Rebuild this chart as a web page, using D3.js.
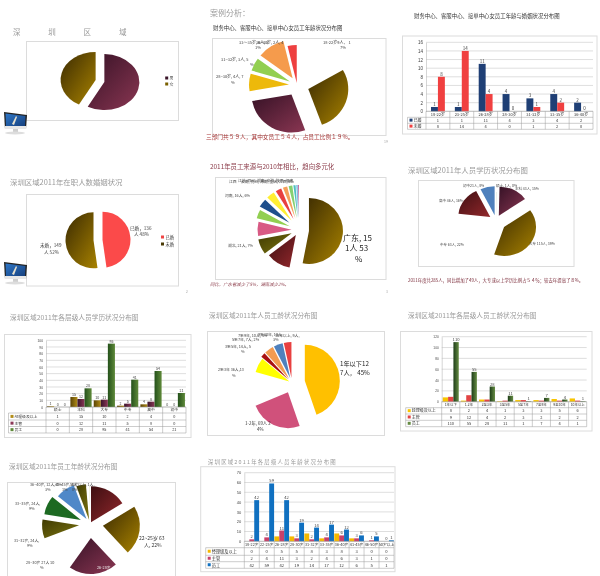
<!DOCTYPE html>
<html><head><meta charset="utf-8">
<script src="https://cdnjs.cloudflare.com/ajax/libs/d3/7.8.5/d3.min.js"></script>
<style>
html,body{margin:0;padding:0;background:#fff}
svg{display:block;filter:blur(0.45px);font-family:"Noto Sans CJK SC","Noto Sans",sans-serif}
</style></head><body>
<svg id="c" width="600" height="576"></svg>
<script>
// ---------- data ----------
const genderCats = ["男","女"];
const genderVals = [165,120];
const ageF_Vals = [9,15,15,4,3,6,2];
const marriageCats = ["18-22岁","23-25岁","26-28岁","28-30岁","31-32岁","33-35岁","36-40岁"];
const marriedVals = [1,1,11,4,3,4,2];
const unmarriedVals = [8,14,4,0,1,2,0];
const marriageNames = ["已婚","未婚"];
const maritalVals = [136,149];
const originVals = [151,33,21,20,12,12,11,8,6,5,3,2,1];
const eduVals = [1,43,115,63,46,21];
const eduCats = ["硕士","本科","大专","中专","高中","初中"];
const eduMgr = [1,15,10,2,4,0];
const eduSup = [0,12,11,5,8,0];
const eduStaff = [0,28,95,41,54,21];
const levelNames = ["经理级及以上","主管","员工"];
const tenureVals = [127,69,30,19,6,12,12,10];
const tenureCats = ["1年以下","1-2年","2至3年","3至5年","5至7年","7至9年","9至10年","10年以上"];
const tenureMgr = [8,2,4,1,3,3,5,6];
const tenureSup = [9,12,4,2,3,2,2,2];
const tenureStaff = [110,55,28,11,1,7,4,1];
const ageVals = [46,63,61,27,24,24,24,12,3,1];
const ageCats = ["18-22岁","22-25岁","26-28岁","28-30岁","31-32岁","33-35岁","36-40岁","41-45岁","46-50岁","50岁以上"];
const ageMgr = [0,0,5,5,8,3,8,3,0,0];
const ageSup = [2,4,11,3,2,4,6,3,1,0];
const ageStaff = [42,59,42,19,14,17,12,6,5,1];

// ---------- palette ----------
const BROWN=["#3a2a02","#a88200"], MAROON=["#361226","#8a3652"], WHITE=["#fff","#fff"];
const DRED=["#3e0f12","#93282c"], OLIVE=["#3f3a02","#7c7410"];
const flat=c=>[c,c];
const svg=d3.select("#c");
const defs=svg.append("defs");
let gid=0;
function grad(pair,horizontal){
  if(pair[0]===pair[1]) return pair[0];
  const id="g"+(gid++);
  const g=defs.append("linearGradient").attr("id",id).attr("x1",0).attr("y1",0)
    .attr("x2",1).attr("y2",horizontal?0:1);
  g.append("stop").attr("offset",0).attr("stop-color",pair[0]);
  g.append("stop").attr("offset",1).attr("stop-color",pair[1]);
  return `url(#${id})`;
}
function text(x,y,s,size,fill,anchor,extra){
  const t=svg.append("text").attr("x",x).attr("y",y).attr("font-size",size)
    .attr("fill",fill||"#333").attr("text-anchor",anchor||"start").text(s);
  if(extra) Object.entries(extra).forEach(([k,v])=>t.attr(k,v));
  return t;
}
function frame(x,y,w,h){
  svg.append("rect").attr("x",x).attr("y",y).attr("width",w).attr("height",h)
    .attr("fill","#fff").attr("stroke","#dcdcdc").attr("stroke-width",1);
}
function pieChart(o){
  const arcs=d3.pie().sort(null).value(d=>d)(o.values);
  const arc=d3.arc().innerRadius(0).outerRadius(100);
  const g=svg.append("g");
  g.selectAll("path").data(arcs).join("path")
    .attr("d",arc)
    .attr("transform",(d,i)=>{
      const m=(d.startAngle+d.endAngle)/2, e=o.explode[i]||0;
      return `translate(${o.cx+e*Math.sin(m)},${o.cy-e*Math.cos(m)}) scale(${o.rx/100},${o.ry/100})`;
    })
    .attr("fill",(d,i)=>grad(o.colors[i]));
}
function barChart(o){
  const x=d3.scaleBand().domain(o.cats).range([o.x0,o.x1]).padding(0);
  const inner=d3.scaleBand().domain(d3.range(o.series.length)).range([0,x.bandwidth()]).paddingOuter(o.pad);
  const y=d3.scaleLinear().domain([0,o.max]).range([o.rows[0],o.yTop]);
  const ticks=d3.range(0,o.max+1,o.step);
  svg.append("g").selectAll("line").data(ticks).join("line")
    .attr("x1",o.x0).attr("x2",o.x1).attr("y1",d=>y(d)).attr("y2",d=>y(d))
    .attr("stroke","#c8c8c8").attr("stroke-width",.6);
  const ax=svg.append("g").attr("transform",`translate(${o.x0},0)`)
    .call(d3.axisLeft(y).tickValues(ticks).tickSize(0).tickPadding(3));
  ax.select(".domain").attr("stroke","#bbb").attr("stroke-width",.6);
  ax.selectAll("text").attr("font-size",o.tickSize).attr("fill","#444").attr("font-family","inherit");
  o.series.forEach((vals,s)=>{
    svg.append("g").selectAll("rect").data(vals).join("rect")
      .attr("x",(d,i)=>x(o.cats[i])+inner(s))
      .attr("width",inner.bandwidth())
      .attr("y",d=>y(d)).attr("height",d=>y(0)-y(d))
      .attr("fill",grad(o.colors[s],true));
    if(o.labelled[s]){
      svg.append("g").selectAll("text").data(vals).join("text")
        .attr("x",(d,i)=>x(o.cats[i])+inner(s)+inner.bandwidth()/2)
        .attr("y",d=>y(d)-1).attr("text-anchor","middle")
        .attr("font-size",o.valSize).attr("fill","#444").text(d=>d);
    }
  });
  // data table
  const r=o.rows, g=svg.append("g").attr("stroke","#9a9a9a").attr("stroke-width",.5);
  r.forEach((yy,i)=>g.append("line").attr("x1",i?o.left:o.x0).attr("x2",o.x1).attr("y1",yy).attr("y2",yy));
  g.append("line").attr("x1",o.left).attr("x2",o.left).attr("y1",r[1]).attr("y2",r[r.length-1]);
  x.domain().forEach(c=>g.append("line").attr("x1",x(c)).attr("x2",x(c)).attr("y1",r[0]).attr("y2",r[r.length-1]));
  g.append("line").attr("x1",o.x1).attr("x2",o.x1).attr("y1",r[0]).attr("y2",r[r.length-1]);
  const mid=i=>(r[i]+r[i+1])/2+o.tableSize*.36;
  o.cats.forEach(c=>text(x(c)+x.bandwidth()/2,mid(0),c,o.catSize||o.tableSize,"#333","middle"));
  o.series.forEach((vals,s)=>{
    svg.append("rect").attr("x",o.left+2).attr("y",mid(s+1)-o.tableSize*.78).attr("width",3).attr("height",3).attr("fill",o.colors[s][1]);
    text(o.left+6,mid(s+1),o.names[s],o.tableSize,"#333");
    vals.forEach((v,i)=>text(x(o.cats[i])+x.bandwidth()/2,mid(s+1),v,o.tableSize,"#333","middle"));
  });
}
function monitor(x,y){
  const g=svg.append("g").attr("transform",`translate(${x},${y})`);
  g.append("path").attr("d","M0,0 L23,3 L22,17 L1,17 Z").attr("fill","#222");
  g.append("path").attr("d","M1.5,1.5 L21.5,4 L21,14 L2,14 Z").attr("fill",grad(["#2f78c8","#16407e"]));
  g.append("path").attr("d","M8,12 L12,4 L13,5 L10,13 Z").attr("fill","#e8e2d0");
  g.append("rect").attr("x",1).attr("y",14).attr("width",21).attr("height",3).attr("fill","#e8e8e8");
  g.append("rect").attr("x",9).attr("y",17).attr("width",5).attr("height",3).attr("fill","#cfcfcf");
  g.append("ellipse").attr("cx",11).attr("cy",21).attr("rx",10).attr("ry",1.5).attr("fill","#ddd");
}
const GREY="#9a9a9a", WINE="#8b3a48", LAB="#444";

// ---------- panel 1 ----------
"深圳区域".split("").forEach((c,i)=>text(13+i*35.3,35,c,7.5,GREY));
frame(26.5,41.5,152,79);
pieChart({values:genderVals,cx:100,cy:81,rx:35,ry:28,explode:[4.5,4.5],colors:[MAROON,BROWN]});
svg.append("rect").attr("x",165.2).attr("y",76.5).attr("width",3).attr("height",3).attr("fill","#3a1428");
svg.append("rect").attr("x",165.2).attr("y",82.5).attr("width",3).attr("height",3).attr("fill","#7a6000");
genderCats.forEach((c,i)=>text(169.5,80+i*6,c,4,"#444"));
monitor(4,112);

// ---------- panel 2 ----------
text(210,16,"案例分析：",8,GREY);
text(213,30,"财务中心、客服中心、接单中心女员工年龄状况分布图",5.4,"#333");
frame(212.5,38.5,173.5,97);
pieChart({values:ageF_Vals,cx:297,cy:85,rx:40,ry:38,explode:[0,12,11,8,8,8,2],
  colors:[WHITE,BROWN,MAROON,flat("#edb90a"),flat("#92cf50"),flat("#f59b4c"),flat("#ee4040")]});
[[323,43.5,"18-22岁9人， 1"],[340,49,"7%"],[239,44,"33～35岁, 6人, 1"],[256,44,"36~40岁, 2人, 4"],[255,49,"1%"],
 [221,61,"31~32岁, 3人, 5"],[250,66,"%"],[216,78,"28~30岁, 4人, 7"],[231,84,"%"]].forEach(d=>{
  text(d[0],d[1],d[2],4,LAB);
});
text(206,139,"三部门共５９人，其中女员工５４人，占员工比例１９%。",5.7,"#a83838");
text(384,143,"19",3.5,"#aaa");

// ---------- panel 3 ----------
text(414,18,"财务中心、客服中心、接单中心女员工年龄与婚姻状况分布图",5.4,"#333");
frame(402.5,36,194.5,98);
barChart({x0:426,x1:593,yTop:42.3,rows:[111.3,117.3,123.3,129.3],left:407.5,cats:marriageCats,
  series:[marriedVals,unmarriedVals],names:marriageNames,colors:[flat("#1f3f75"),flat("#f04040")],
  max:16,step:2,pad:.72,tickSize:4.5,valSize:4.5,tableSize:4,labelled:[1,1]});

// ---------- panel 4 ----------
text(10,185,"深圳区域2011年在职人数婚姻状况",7.4,GREY);
frame(26.5,194.5,152,91.5);
pieChart({values:maritalVals,cx:98,cy:240,rx:28,ry:28,explode:[4.5,4.5],colors:[flat("#fb4a4a"),BROWN]});
text(130,230,"已婚，136",4.6,LAB); text(134,236,"人 48%",4.6,LAB);
text(40,247,"未婚，149",4.6,LAB); text(44,254,"人 52%",4.6,LAB);
svg.append("rect").attr("x",161).attr("y",235.5).attr("width",3).attr("height",3).attr("fill","#f04545");
svg.append("rect").attr("x",161).attr("y",242.5).attr("width",3).attr("height",3).attr("fill","#4a3a05");
marriageNames.forEach((c,i)=>text(165.5,239+i*7,c,4.2,"#444"));
monitor(4,262);
text(186,293,"2",3.5,"#aaa");

// ---------- panel 5 ----------
text(210,169,"2011年员工来源与2010年相比，趋向多元化",6.4,WINE);
frame(215.5,177.5,170.5,102);
pieChart({values:originVals,cx:299,cy:230,rx:34,ry:33,explode:[10,6,8,7.5,10,12,12,12,12,12,12,12,12],
  colors:[BROWN,DRED,OLIVE,flat("#d85a84"),flat("#92cf50"),flat("#1f4f8c"),flat("#ffee33"),flat("#e84040"),flat("#f5a05a"),flat("#86d070"),flat("#50c0c0"),flat("#7ab8e0"),flat("#b04080")]});
text(343,241,"广东, 15",8,"#222"); text(345,251,"1人 53",8,"#222"); text(355,262,"%",8,"#222");
text(228,247,"湖北, 21人, 7%",3.8,LAB);
text(225,197,"河南, 16人, 6%",3.8,LAB);
text(238,182,"江苏, 四川, 湖南, 安徽, 陕西, 福建",3.8,LAB);
text(241,182.5,"云南, 贵州, 海南, 重庆, 江西, 4%",3.8,LAB);
text(229,183,"江西",3.8,LAB);
text(210,286,"同比，广东省减少了5%，湖南减少2%。",4.4,"#8b3a48",null,{"font-style":"italic"});
text(386,293,"3",3.5,"#aaa");

// ---------- panel 6 ----------
text(408,173,"深圳区域2011年人员学历状况分布图",7.4,GREY);
frame(418.5,180.5,155.5,86);
pieChart({values:eduVals,cx:496,cy:221,rx:32,ry:29,explode:[0,6,10,4,7,6],
  colors:[flat("#dfeee0"),MAROON,BROWN,WHITE,DRED,flat("#4f81bd")]});
text(496,187,"硕士, 1人, 0%",3.5,LAB);text(515,190,"本科 43人, 15%",3.5,LAB);
text(529,245,"大专 115人, 39%",3.5,LAB);text(440,246,"中专 63人, 22%",3.5,LAB);
text(439,202,"高中 46人, 16%",3.5,LAB);text(463,187,"初中21人, 8%",3.5,LAB);
text(408,282,"2011年度共285人，同比增加了49人，大专或以上学历比例占５４％；较去年提高了８%。",4.4,"#7a2a38");

// ---------- panel 7 ----------
text(10,320,"深圳区域2011年各层级人员学历状况分布图",6.7,GREY);
frame(4.5,334.5,186.5,103);
barChart({x0:46,x1:186,yTop:340.3,rows:[407,413,420,426.5,433],left:8.5,cats:eduCats,
  series:[eduMgr,eduSup,eduStaff],names:levelNames,colors:[["#5a4406","#b28d18"],["#38142a","#8c3858"],["#23501a","#5f8a3a"]],
  max:100,step:10,pad:.15,tickSize:3.3,valSize:3.6,tableSize:3.8,labelled:[1,1,1]});

// ---------- panel 8 ----------
text(209,318,"深圳区域2011年人员工龄状况分布图",6.7,GREY);
frame(207.5,331.5,177,104);
pieChart({values:tenureVals,cx:292,cy:383,rx:35,ry:36,explode:[13,10,0,3,5,5,5,5],
  colors:[flat("#ffc000"),flat("#d0517b"),WHITE,flat("#ffff00"),flat("#a81010"),flat("#f29b50"),flat("#4f81bd"),flat("#e84040")]});
text(340,366,"1年以下12",6.2,"#222");text(340,375,"7人， 45%",6.2,"#222");
text(245,425,"1-2年, 69人 2",4.4,"#333");text(257,431,"4%",4.4,"#333");
text(218,371,"2至3年 36人,13",3.8,LAB);text(232,377,"%",3.8,LAB);
text(225,348,"3至5年, 14人, 5",3.8,LAB);text(241,353,"%",3.8,LAB);
text(232,341,"5至7年, 7人, 2%",3.8,LAB);
text(238,337,"7至9年, 10人, 4%",3.8,LAB);text(258,336,"9至10年, 10人",3.8,LAB);
text(275,337,"10年以上, 9人,",3.8,LAB);text(273,341,"3%",3.8,LAB);

// ---------- panel 9 ----------
text(408,318,"深圳区域2011年各层级人员工龄状况分布图",6.7,GREY);
frame(400.5,331.5,191.5,99.5);
barChart({x0:441.7,x1:586.7,yTop:336.7,rows:[401.7,407.7,414,420.3,426.7],left:405.7,cats:tenureCats,
  series:[tenureMgr,tenureSup,tenureStaff],names:levelNames,colors:[flat("#f8c400"),flat("#e24444"),["#1d3d18","#668c44"]],
  max:120,step:20,pad:.2,tickSize:3.2,valSize:4.2,tableSize:4,catSize:3.4,labelled:[0,0,1]});

// ---------- panel 10 ----------
text(9,469,"深圳区域2011年员工年龄状况分布图",6.7,GREY);
frame(7.5,482.5,168,96);
pieChart({values:ageVals,cx:90,cy:524,rx:37,ry:36,explode:[2,13,14,8,11,10,6,4,3,2],
  colors:[DRED,BROWN,MAROON,WHITE,OLIVE,flat("#1d6a22"),flat("#4f88c8"),OLIVE,WHITE,flat("#f0f0dc")]});
text(139,540,"22~25岁 63",5,"#333");text(144,547,"人, 22%",5,"#333");
text(97,569,"26-28岁",3.8,"#eee");
text(26,564,"28~30岁 27人 10",3.8,LAB);text(40,568.5,"%",3.8,LAB);
text(14,542,"31~32岁, 24人,",3.8,LAB);text(27,547,"9%",3.8,LAB);
text(15,505,"33~35岁, 24人,",3.8,LAB);text(29,510,"9%",3.8,LAB);
text(30,486,"36~40岁, 12人, 4%",3.8,LAB);text(45,491,"3%",3.8,LAB);
text(55,486,"41~45岁, 3人",3.8,LAB);text(70,486,"50岁以上, 1人,",3.8,LAB);text(62,491,"1%",3.8,LAB);text(72,491,"0%",3.8,LAB);

// ---------- panel 11 ----------
text(208,464,"深圳区域2011年各层级人员年龄状况分布图",5.4,GREY,null,{"letter-spacing":"1.2"});
frame(200.7,466.7,194.3,105);
barChart({x0:244.3,x1:394,yTop:472.7,rows:[541.3,547.7,555.3,561.7,568.3],left:205.7,cats:ageCats,
  series:[ageMgr,ageSup,ageStaff],names:levelNames,colors:[flat("#f5b800"),flat("#c8406a"),flat("#1070c0")],
  max:70,step:10,pad:.03,tickSize:4,valSize:4.2,tableSize:4.2,catSize:3.8,labelled:[0,1,1]});
</script>
</body></html>
